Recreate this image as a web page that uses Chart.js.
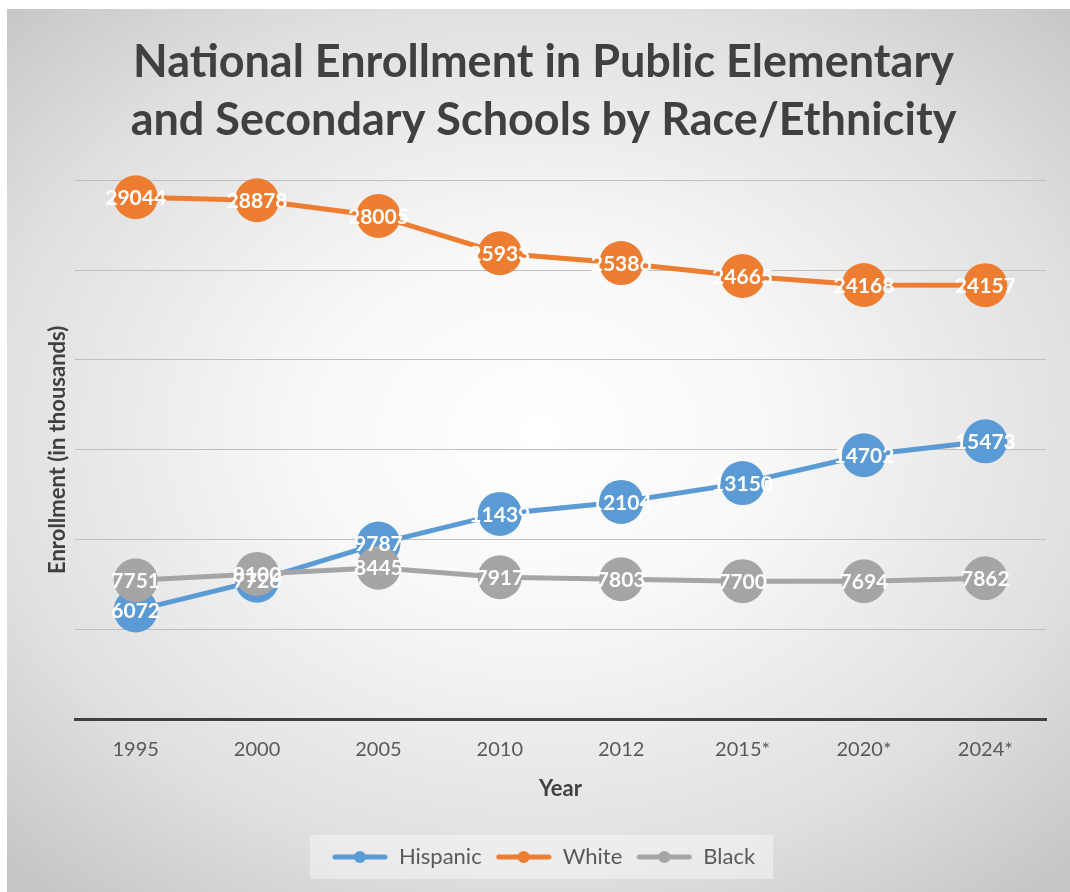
<!DOCTYPE html>
<html>
<head>
<meta charset="utf-8">
<script src="https://cdn.jsdelivr.net/npm/chart.js@4"></script>
<style>
    html, body { margin: 0; padding: 0; background: #fff; }
    #frame {
        position: absolute;
        left: 7px;
        top: 9px;
        width: 1063px;
        height: 883px;
        background: radial-gradient(ellipse 72% 68% at 50% 48%, #ffffff 0%, #f8f8f8 30%, #e0e0e0 72%, #c6c6c6 100%);
    }
    canvas { display: block; }
</style>
</head>
<body>
<div id="frame"><canvas id="enrollmentChart" width="1063" height="883"></canvas></div>
<script>
const years = ["1995", "2000", "2005", "2010", "2012", "2015*", "2020*", "2024*"];
const hispanic = [6072, 7726, 9787, 11439, 12104, 13150, 14702, 15473];
const white = [29044, 28878, 28005, 25933, 25386, 24665, 24168, 24157];
const black = [7751, 8100, 8445, 7917, 7803, 7700, 7694, 7862];

const FONT = "Lato, 'Open Sans', sans-serif";

// legend marker: short line with a dot in the middle
function legendMarker(color) {
    const c = document.createElement("canvas");
    c.width = 56;
    c.height = 14;
    const g = c.getContext("2d");
    g.strokeStyle = color;
    g.lineWidth = 5;
    g.lineCap = "round";
    g.beginPath();
    g.moveTo(3, 7);
    g.lineTo(53, 7);
    g.stroke();
    g.fillStyle = color;
    g.beginPath();
    g.arc(28, 7, 6, 0, Math.PI * 2);
    g.fill();
    return c;
}

// white value text centred on every point
const valueLabels = {
    id: "valueLabels",
    afterDatasetsDraw(chart) {
        const ctx = chart.ctx;
        ctx.save();
        ctx.font = "bold 21px " + FONT;
        ctx.fillStyle = "#ffffff";
        ctx.textAlign = "center";
        ctx.textBaseline = "middle";
        chart.data.datasets.forEach((ds, i) => {
            const meta = chart.getDatasetMeta(i);
            meta.data.forEach((pt, j) => {
                ctx.fillText(String(ds.data[j]), pt.x, pt.y + 1);
            });
        });
        ctx.restore();
    },
};

// pale box behind the legend entries
const legendBox = {
    id: "legendBox",
    beforeDraw(chart) {
        const boxes = chart.legend && chart.legend.legendHitBoxes;
        if (!boxes || !boxes.length) return;
        const left = Math.min(...boxes.map((b) => b.left)) - 22;
        const right = Math.max(...boxes.map((b) => b.left + b.width)) + 18;
        const midY = boxes[0].top + boxes[0].height / 2;
        const ctx = chart.ctx;
        ctx.save();
        ctx.fillStyle = "rgba(255, 255, 255, 0.4)";
        ctx.fillRect(left, midY - 22, right - left, 44);
        ctx.restore();
    },
};

function series(label, data, color, order) {
    return {
        label: label,
        data: data,
        borderColor: color,
        backgroundColor: color,
        borderWidth: 5,
        pointRadius: 22,
        pointHoverRadius: 22,
        pointBackgroundColor: color,
        pointBorderColor: color,
        pointBorderWidth: 0,
        pointStyle: "circle",
        tension: 0,
        fill: false,
        clip: false,
        order: order,
    };
}

new Chart(document.getElementById("enrollmentChart"), {
    type: "line",
    data: {
        labels: years,
        datasets: [
            series("Hispanic", hispanic, "#5B9BD5", 3),
            series("White", white, "#ED7D31", 2),
            series("Black", black, "#A5A5A5", 1),
        ],
    },
    plugins: [legendBox, valueLabels],
    options: {
        responsive: false,
        animation: false,
        layout: {
            padding: { left: 34, right: 24, top: 0, bottom: 14 },
        },
        plugins: {
            title: {
                display: true,
                text: [
                    "National Enrollment in Public Elementary",
                    "and Secondary Schools by Race/Ethnicity",
                ],
                color: "#404040",
                font: { family: FONT, size: 45, weight: "bold", lineHeight: 1.29 },
                padding: { top: 24, bottom: 31 },
            },
            legend: {
                position: "bottom",
                sort: (a, b) => a.datasetIndex - b.datasetIndex,
                labels: {
                    usePointStyle: true,
                    pointStyleWidth: 56,
                    color: "#595959",
                    font: { family: FONT, size: 22 },
                    padding: 14,
                    generateLabels(chart) {
                        return chart.data.datasets.map((ds, i) => ({
                            text: ds.label,
                            datasetIndex: i,
                            pointStyle: legendMarker(ds.borderColor),
                            fillStyle: ds.borderColor,
                            strokeStyle: ds.borderColor,
                            fontColor: "#595959",
                            lineWidth: 0,
                            hidden: false,
                        }));
                    },
                },
            },
            tooltip: { enabled: false },
        },
        scales: {
            x: {
                offset: true,
                grid: { display: false, drawTicks: false },
                border: { display: true, color: "#404040", width: 3 },
                ticks: {
                    color: "#595959",
                    font: { family: FONT, size: 20 },
                    padding: 18,
                },
                title: {
                    display: true,
                    text: "Year",
                    color: "#404040",
                    font: { family: FONT, size: 22, weight: "bold" },
                    padding: { top: -4, bottom: 30 },
                },
            },
            y: {
                min: 0,
                max: 30000,
                ticks: { display: false, stepSize: 5000 },
                grid: { color: "#bfbfbf", lineWidth: 1, drawTicks: false },
                border: { display: false },
                title: {
                    display: true,
                    text: "Enrollment (in thousands)",
                    color: "#404040",
                    font: { family: FONT, size: 22, weight: "bold" },
                    padding: { top: 4, bottom: 4 },
                },
                afterFit(scale) {
                    scale.width = 34;
                },
            },
        },
    },
});
</script>
</body>
</html>
